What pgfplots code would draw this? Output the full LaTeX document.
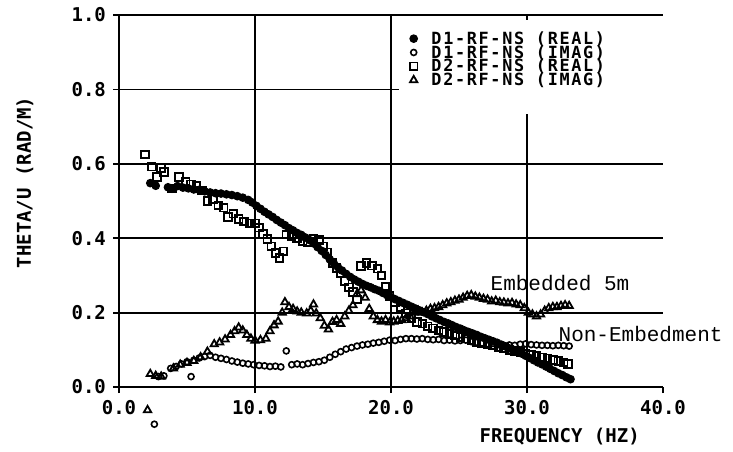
\documentclass[border=0pt]{standalone}
\usepackage{fontspec}
\usepackage{pgfplots}
\pgfplotsset{compat=1.18}
\newfontfamily\plotfamily{DejaVu Sans Mono}
\newfontfamily\legfamily{DejaVu Sans Mono}[LetterSpace=10]
\newfontfamily\annfamily{Liberation Mono}
\newcommand\pf{\plotfamily\bfseries\fontsize{9.5}{11}\selectfont}
\newcommand\lf{\legfamily\bfseries\fontsize{8.4}{10}\selectfont}
\newcommand\af{\annfamily\fontsize{10.5}{12}\selectfont}
\begin{document}
\begin{tikzpicture}[x=1pt,y=1pt]
\useasboundingbox (0,0) rectangle (366.5,225.5);
\begin{axis}[
  at={(59.5pt,32pt)}, anchor=south west,
  scale only axis, width=272pt, height=186pt,
  xmin=0, xmax=40, ymin=0, ymax=1,
  axis lines=left, axis line style={-, line width=1pt},
  xtick={0,10,20,30}, extra x ticks={40}, extra x tick style={grid=none},
  ytick={0,0.2,0.4,0.6,0.8,1.0},
  grid=major, major grid style={black, line width=0.9pt},
  tick align=outside, major tick length=3pt, tick style={black, line width=0.9pt},
  /pgf/number format/assume math mode=true,
  xticklabel={\pgfmathprintnumber[fixed,fixed zerofill,precision=1]{\tick}},
  yticklabel={\pgfmathprintnumber[fixed,fixed zerofill,precision=1]{\tick}},
  ticklabel style={font=\pf},
  clip=false,
  legend cell align=left,
  legend style={draw=none, fill=none, inner sep=0pt, font=\lf,
    at={(axis cs:21.36,0.956)}, anchor=north west,
    row sep=0pt, nodes={inner sep=0pt, text height=6.3pt, text depth=0.6pt},
    /tikz/every odd column/.style={column sep=7pt}},
  legend image code/.code={\draw[#1] plot coordinates {(0pt,0pt)};},
]
\fill[white] (axis cs:20.6,0.735) rectangle (axis cs:41,0.987);

% D1-RF-NS (REAL)
\addplot[only marks, mark=*, mark size=1.9pt, black, mark options={line width=0.5pt}] coordinates {
(2.3,0.548) (2.7,0.541) (3.6,0.537) (3.9,0.533) (4.3,0.540) (4.7,0.536) (5.1,0.534) (5.5,0.531)
(5.9,0.530) (6.3,0.526) (6.7,0.523) (7.1,0.521) (7.5,0.520) (7.9,0.518) (8.3,0.516) (8.7,0.513)
(9.1,0.509) (9.5,0.503) (9.8,0.496) (10.1,0.487) (10.4,0.479) (10.7,0.471) (11.0,0.464) (11.3,0.457)
(11.6,0.449) (11.9,0.442) (12.2,0.435) (12.5,0.427) (12.8,0.421) (13.1,0.414) (13.4,0.409) (13.7,0.402)
(14.0,0.395) (14.3,0.386) (14.6,0.376) (14.9,0.366) (15.2,0.355) (15.5,0.343) (15.8,0.332) (16.1,0.322)
(16.4,0.313) (16.7,0.304) (17.0,0.296) (17.3,0.289) (17.6,0.283) (17.9,0.277) (18.2,0.272) (18.5,0.268)
(18.8,0.263) (19.1,0.259) (19.4,0.253) (19.7,0.247) (20.0,0.242) (20.3,0.236) (20.6,0.231) (20.9,0.226)
(21.2,0.221) (21.5,0.216) (21.8,0.211) (22.1,0.206) (22.4,0.201) (22.7,0.196) (23.0,0.190) (23.3,0.185)
(23.6,0.180) (23.9,0.175) (24.2,0.171) (24.5,0.166) (24.8,0.161) (25.1,0.157) (25.4,0.152) (25.7,0.148)
(26.0,0.144) (26.3,0.140) (26.6,0.135) (26.9,0.131) (27.2,0.127) (27.5,0.123) (27.8,0.119) (28.1,0.114)
(28.4,0.109) (28.7,0.104) (29.0,0.100) (29.3,0.095) (29.6,0.090) (29.9,0.084) (30.2,0.078) (30.5,0.072)
(30.8,0.066) (31.1,0.061) (31.4,0.055) (31.7,0.049) (32.0,0.043) (32.3,0.037) (32.6,0.032) (32.9,0.026)
(33.2,0.021)
};
\addlegendentry{D1-RF-NS (REAL)}

% D1-RF-NS (IMAG)
\addplot[only marks, mark=o, mark size=1.5pt, black, mark options={line width=0.8pt}] coordinates {
(2.6,-0.100) (2.9,0.028) (3.3,0.030) (3.8,0.050) (4.2,0.055) (4.6,0.062) (5.0,0.068) (5.3,0.028)
(5.5,0.072) (5.9,0.078) (6.3,0.082) (6.7,0.085) (7.1,0.080) (7.5,0.077) (7.9,0.074) (8.3,0.070)
(8.7,0.067) (9.1,0.064) (9.5,0.062) (9.9,0.060) (10.3,0.058) (10.7,0.057) (11.1,0.055) (11.5,0.056)
(11.9,0.054) (12.3,0.097) (12.7,0.060) (13.1,0.062) (13.5,0.060) (13.9,0.063) (14.3,0.066) (14.7,0.068)
(15.1,0.072) (15.5,0.080) (15.9,0.088) (16.3,0.095) (16.7,0.102) (17.1,0.106) (17.5,0.110) (17.9,0.113)
(18.3,0.115) (18.7,0.118) (19.1,0.120) (19.5,0.123) (19.9,0.126) (20.3,0.125) (20.7,0.128) (21.1,0.130)
(21.5,0.130) (21.9,0.129) (22.3,0.130) (22.7,0.128) (23.1,0.127) (23.5,0.128) (23.9,0.125) (24.3,0.126)
(24.7,0.124) (25.1,0.125) (25.5,0.126) (25.9,0.122) (26.3,0.120) (26.7,0.118) (27.1,0.116) (27.5,0.117)
(27.9,0.114) (28.3,0.112) (28.7,0.113) (29.1,0.112) (29.5,0.115) (29.9,0.116) (30.3,0.114) (30.7,0.113)
(31.1,0.112) (31.5,0.112) (31.9,0.111) (32.3,0.112) (32.7,0.111) (33.1,0.110)
};
\addlegendentry{D1-RF-NS (IMAG)}

% D2-RF-NS (REAL)
\addplot[only marks, mark=square, mark size=1.9pt, black, mark options={line width=0.9pt}] coordinates {
(1.9,0.625) (2.4,0.592) (2.8,0.565) (3.1,0.588) (3.3,0.578) (3.9,0.534) (4.4,0.565) (4.9,0.552)
(5.3,0.545) (5.7,0.540) (6.1,0.528) (6.5,0.500) (6.9,0.505) (7.3,0.488) (7.7,0.482) (8.0,0.457)
(8.4,0.466) (8.8,0.452) (9.2,0.445) (9.6,0.440) (10.0,0.440) (10.3,0.428) (10.6,0.412) (10.9,0.398)
(11.2,0.378) (11.5,0.360) (11.8,0.347) (12.1,0.365) (12.3,0.410) (12.7,0.405) (13.1,0.400) (13.5,0.392)
(13.9,0.389) (14.3,0.398) (14.7,0.395) (15.0,0.378) (15.3,0.362) (15.7,0.333) (16.0,0.320) (16.3,0.306)
(16.6,0.285) (16.9,0.268) (17.2,0.255) (17.5,0.235) (17.8,0.325) (18.2,0.333) (18.6,0.326) (19.0,0.318)
(19.3,0.300) (19.6,0.270) (19.9,0.245) (20.3,0.228) (20.7,0.215) (21.1,0.198) (21.5,0.185) (21.9,0.175)
(22.3,0.170) (22.7,0.163) (23.1,0.158) (23.5,0.152) (23.9,0.148) (24.3,0.142) (24.7,0.138) (25.1,0.134)
(25.5,0.130) (25.9,0.125) (26.3,0.121) (26.7,0.118) (27.1,0.116) (27.5,0.112) (27.9,0.108) (28.3,0.105)
(28.7,0.100) (29.1,0.097) (29.5,0.094) (29.9,0.090) (30.3,0.087) (30.7,0.083) (31.1,0.080) (31.5,0.077)
(31.9,0.073) (32.3,0.070) (32.7,0.066) (33.0,0.062)
};
\addlegendentry{D2-RF-NS (REAL)}

% D2-RF-NS (IMAG)
\addplot[only marks, mark=triangle, mark size=2.1pt, black, mark options={line width=0.9pt}] coordinates {
(2.1,-0.062) (2.3,0.035) (2.7,0.030) (3.1,0.028) (4.0,0.050) (4.5,0.060) (5.0,0.065) (5.5,0.070)
(6.0,0.080) (6.5,0.095) (7.0,0.115) (7.4,0.120) (7.8,0.128) (8.2,0.140) (8.5,0.150) (8.8,0.160)
(9.1,0.152) (9.4,0.140) (9.7,0.130) (10.0,0.125) (10.4,0.126) (10.8,0.130) (11.1,0.150) (11.4,0.166)
(11.7,0.176) (12.0,0.200) (12.2,0.228) (12.5,0.215) (12.8,0.210) (13.1,0.203) (13.4,0.200) (13.8,0.198)
(14.1,0.205) (14.3,0.222) (14.5,0.198) (14.8,0.185) (15.1,0.165) (15.4,0.155) (15.7,0.175) (16.0,0.180)
(16.3,0.170) (16.6,0.190) (16.9,0.205) (17.2,0.220) (17.5,0.250) (17.8,0.260) (18.1,0.240) (18.4,0.210)
(18.7,0.190) (19.0,0.180) (19.3,0.176) (19.6,0.180) (19.9,0.174) (20.2,0.176) (20.5,0.178) (20.8,0.180)
(21.1,0.185) (21.4,0.190) (21.7,0.200) (22.0,0.205) (22.3,0.200) (22.6,0.205) (22.9,0.210) (23.2,0.212)
(23.5,0.215) (23.8,0.220) (24.1,0.225) (24.4,0.228) (24.7,0.232) (25.0,0.235) (25.3,0.240) (25.6,0.245)
(25.9,0.247) (26.2,0.243) (26.5,0.240) (26.8,0.237) (27.1,0.235) (27.4,0.230) (27.7,0.232) (28.0,0.228)
(28.3,0.227) (28.6,0.225) (28.9,0.226) (29.2,0.222) (29.5,0.220) (29.8,0.212) (30.1,0.200) (30.4,0.195)
(30.7,0.190) (31.0,0.195) (31.3,0.205) (31.6,0.212) (31.9,0.215) (32.2,0.215) (32.5,0.218) (32.8,0.220)
(33.1,0.218)
};
\addlegendentry{D2-RF-NS (IMAG)}

\node[anchor=west, font=\af, inner sep=0pt] at (axis cs:27.3,0.28) {Embedded 5m};
\node[anchor=west, font=\af, inner sep=0pt] at (axis cs:32.3,0.142) {Non-Embedment};
\node[font=\pf, rotate=90] at (axis description cs:-0.173,0.55) {THETA/U (RAD/M)};
\node[font=\pf] at (axis description cs:0.81,-0.134) {FREQUENCY (HZ)};
\end{axis}
\end{tikzpicture}
\end{document}
